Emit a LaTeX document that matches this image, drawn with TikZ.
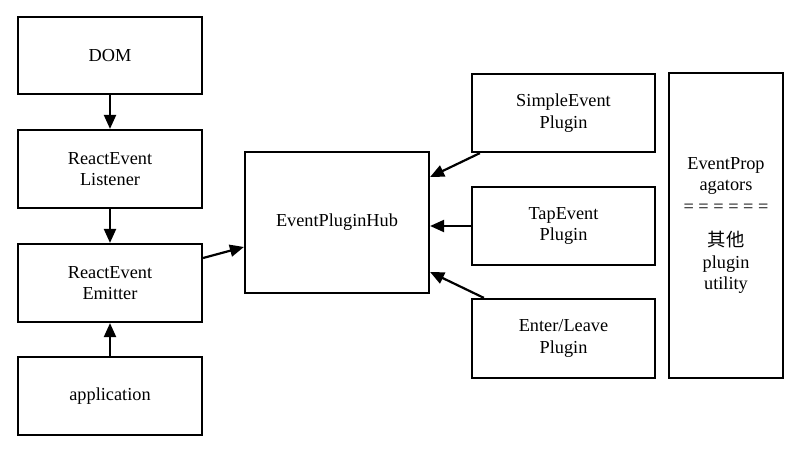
\documentclass[tikz,border=0pt]{standalone}
\usepackage{fontspec}
\setmainfont{Liberation Serif}
\newfontfamily\cjk{Noto Sans CJK SC}
\usepackage{tikz}
\usetikzlibrary{arrows.meta}

\tikzset{
  blk/.style={draw, line width=2.2pt, align=center, inner sep=2pt,
    font=\fontsize{18.3}{21.5}\selectfont},
  lnk/.style={line width=2.2pt, -{Triangle[length=14pt,width=12pt]}}
}

\begin{document}
\begin{tikzpicture}[x=1pt, y=-1pt]
  \useasboundingbox (0,0) rectangle (800,454);

  \node[blk, minimum width=184pt, minimum height=77pt] (dom) at (110,55.5) {DOM};
  \node[blk, minimum width=184pt, minimum height=78pt] (listener) at (110,169) {ReactEvent\\Listener};
  \node[blk, minimum width=184pt, minimum height=78pt] (emitter) at (110,283) {ReactEvent\\Emitter};
  \node[blk, minimum width=184pt, minimum height=78pt] (app) at (110,396) {application};

  \node[blk, minimum width=184pt, minimum height=141pt] (hub) at (337,222.5) {EventPluginHub};

  \node[blk, minimum width=183pt, minimum height=78pt] (simple) at (563.5,113) {SimpleEvent\\Plugin};
  \node[blk, minimum width=183pt, minimum height=78pt] (tap) at (563.5,226) {TapEvent\\Plugin};
  \node[blk, minimum width=183pt, minimum height=79pt] (enterleave) at (563.5,338.5) {Enter/Leave\\Plugin};

  \node[blk, minimum width=114pt, minimum height=305pt] (prop) at (726,225.5)
    {EventProp\\agators\\= = = = = =\\[13pt]{\cjk 其他}\\plugin\\utility};

  \draw[lnk] (dom.south) -- (listener.north);
  \draw[lnk] (listener.south) -- (emitter.north);
  \draw[lnk] (app.north) -- (emitter.south);
  \draw[lnk] ([yshift=25pt]emitter.east) -- ([yshift=-24.5pt]hub.west);

  \draw[lnk] ([xshift=9pt]simple.south west) -- ([yshift=45.5pt]hub.east);
  \draw[lnk] (tap.west) -- (tap.west -| hub.east);
  \draw[lnk] ([xshift=13pt]enterleave.north west) -- ([yshift=-49.5pt]hub.east);
\end{tikzpicture}
\end{document}
